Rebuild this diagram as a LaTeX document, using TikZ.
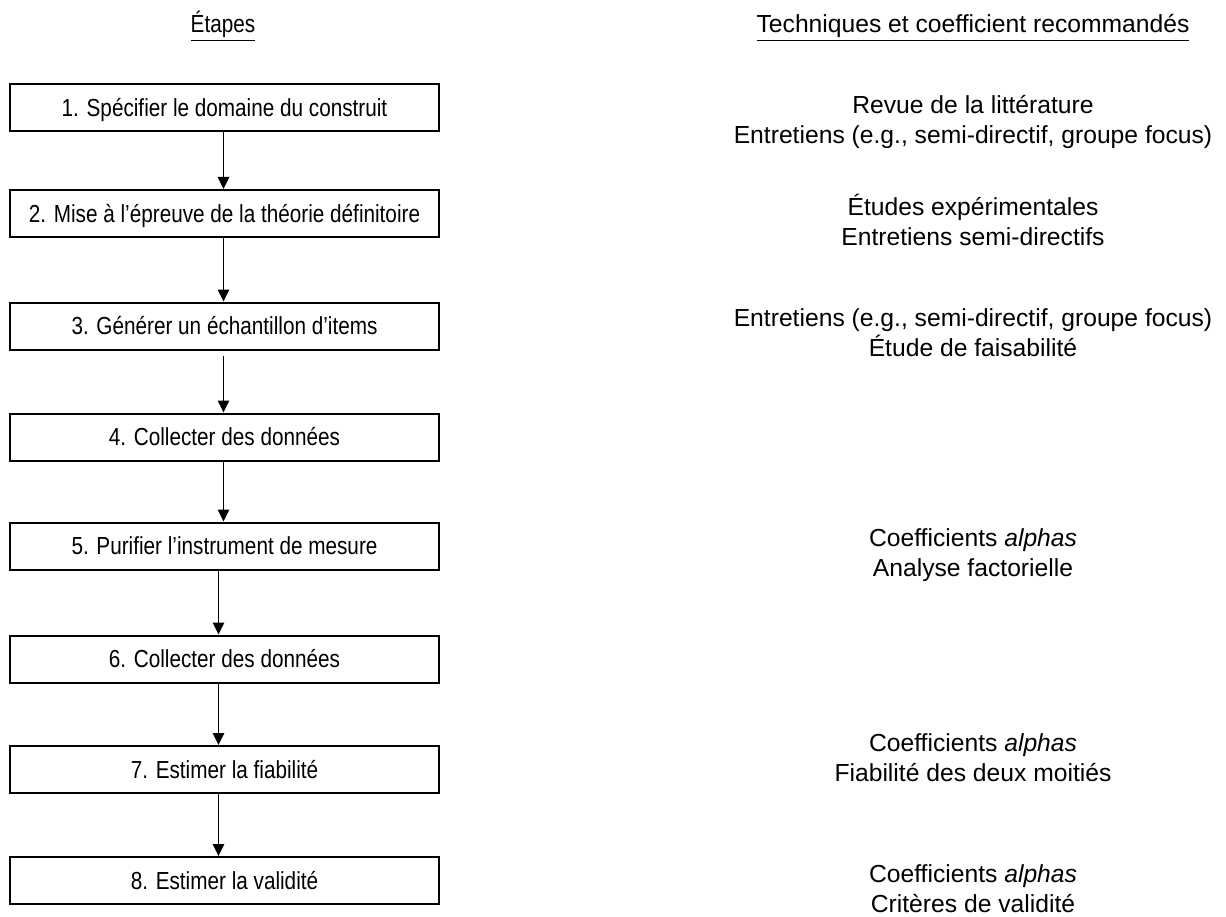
\documentclass[tikz,border=0pt]{standalone}
\usepackage{fontspec}
\setmainfont{Liberation Sans}
\newfontfamily\condfont[FakeStretch=0.84]{Liberation Sans}
\usetikzlibrary{arrows.meta}
\begin{document}
\begin{tikzpicture}[x=0.75pt,y=-0.75pt,
  stepbox/.style={draw, line width=1.5pt, minimum width=321.75pt, minimum height=35.25pt,
    inner sep=0pt, font=\condfont\fontsize{18.5}{22.5}\selectfont, text height=13.25pt, text depth=0pt},
  tech/.style={align=center, inner sep=0pt, font=\fontsize{18.5}{22.5}\selectfont},
  headl/.style={anchor=base, inner sep=0pt, font=\condfont\fontsize{18.5}{22.5}\selectfont},
  headr/.style={anchor=base, inner sep=0pt, font=\fontsize{18.5}{22.5}\selectfont},
  arr/.style={-{Triangle[width=8.5pt,length=9pt]}, line width=1.2pt}]
\useasboundingbox (0,0) rectangle (1226,916);

% headings
\node[headl] (hl) at (223,33) {\underline{Étapes}};
\node[headr] (hr) at (973,33) {\underline{Techniques et coefficient recommandés}};

% steps
\node[stepbox] (b1) at (224.5,107.5) {1. Spécifier le domaine du construit};
\node[stepbox] (b2) at (224.5,213.5) {2. Mise à l’épreuve de la théorie définitoire};
\node[stepbox] (b3) at (224.5,326) {3. Générer un échantillon d’items};
\node[stepbox] (b4) at (224.5,437) {4. Collecter des données};
\node[stepbox] (b5) at (224.5,546) {5. Purifier l’instrument de mesure};
\node[stepbox] (b6) at (224.5,659) {6. Collecter des données};
\node[stepbox] (b7) at (224.5,769.5) {7. Estimer la fiabilité};
\node[stepbox] (b8) at (224.5,880.5) {8. Estimer la validité};

% arrows
\draw[arr] ([xshift=-0.75pt]b1.south) -- ([xshift=-0.75pt]b2.north);
\draw[arr] ([xshift=-0.75pt]b2.south) -- ([xshift=-0.75pt]b3.north);
\draw[arr] ([xshift=-0.75pt,yshift=-3.75pt]b3.south) -- ([xshift=-0.75pt]b4.north);
\draw[arr] ([xshift=-0.75pt]b4.south) -- ([xshift=-0.75pt]b5.north);
\draw[arr] ([xshift=-4.5pt]b5.south) -- ([xshift=-4.5pt]b6.north);
\draw[arr] ([xshift=-4.5pt]b6.south) -- ([xshift=-4.5pt]b7.north);
\draw[arr] ([xshift=-4.5pt]b7.south) -- ([xshift=-4.5pt]b8.north);

% techniques
\node[tech] (t1) at (973,122.4) {Revue de la littérature\\Entretiens (e.g., semi-directif, groupe focus)};
\node[tech] (t2) at (973,219.7) {Études expérimentales\\Entretiens semi-directifs};
\node[tech] (t3) at (973,333) {Entretiens (e.g., semi-directif, groupe focus)\\Étude de faisabilité};
\node[tech] (t5) at (973,555.4) {Coefficients \textit{alphas}\\Analyse factorielle};
\node[tech] (t7) at (973,758) {Coefficients \textit{alphas}\\Fiabilité des deux moitiés};
\node[tech] (t8) at (973,889) {Coefficients \textit{alphas}\\Critères de validité};
\end{tikzpicture}
\end{document}
